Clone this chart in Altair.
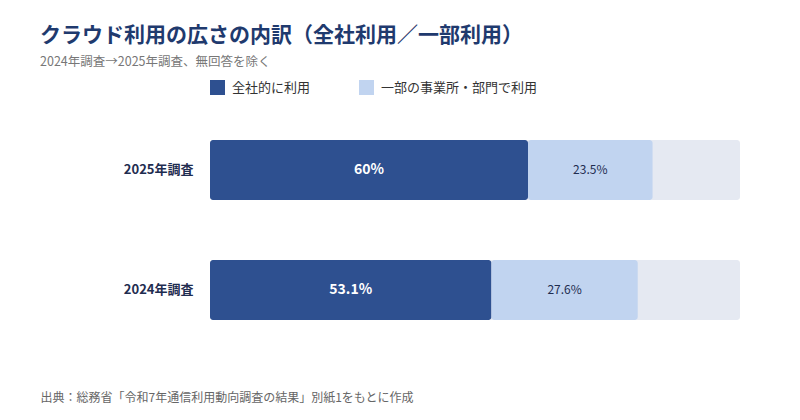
import altair as alt
import pandas as pd

surveys = ["2025年調査", "2024年調査"]
full_use = [60.0, 53.1]
partial_use = [23.5, 27.6]
series = ["全社的に利用", "一部の事業所・部門で利用"]
full_labels = ["60%", "53.1%"]
partial_labels = ["23.5%", "27.6%"]

FONT = "Noto Sans CJK JP"
DARK = "#2e5090"
LIGHT = "#c1d4f0"
BG = "#e5e9f2"
NAVY = "#1f2d50"

rows = []
for i, s in enumerate(surveys):
    rows.append({"survey": s, "series": series[0], "value": full_use[i], "label": full_labels[i], "order": 0})
    rows.append({"survey": s, "series": series[1], "value": partial_use[i], "label": partial_labels[i], "order": 1})
df = pd.DataFrame(rows)
bg_df = pd.DataFrame({"survey": surveys, "total": [100] * len(surveys)})

y_enc = alt.Y(
    "survey:N",
    sort=surveys,
    scale=alt.Scale(paddingInner=0.5, paddingOuter=0.25),
    axis=alt.Axis(
        title=None, domain=False, ticks=False, labelPadding=17,
        labelFont=FONT, labelFontSize=13, labelFontWeight="bold", labelColor=NAVY,
    ),
)
x_scale = alt.Scale(domain=[0, 100], nice=False)
x_axis = alt.Axis(
    labels=False, ticks=False, domain=False, grid=False,
    title="出典：総務省「令和7年通信利用動向調査の結果」別紙1をもとに作成",
    titleFont=FONT, titleFontSize=12, titleFontWeight="normal", titleColor="#666666",
    titleAnchor="start", titleAlign="left", titleX=-170, titleY=47, titleBaseline="middle",
)

bg = alt.Chart(bg_df).mark_bar(color=BG, cornerRadius=3).encode(
    x=alt.X("total:Q", scale=x_scale, axis=x_axis),
    y=y_enc,
)

stacked = alt.Chart(df).transform_stack(
    stack="value", groupby=["survey"], as_=["x0", "x1"], sort=[alt.SortField("order")]
).transform_calculate(mid="(datum.x0 + datum.x1) / 2")

bars = stacked.mark_bar(cornerRadius=3).encode(
    x=alt.X("x0:Q", scale=x_scale),
    x2="x1:Q",
    y=y_enc,
    color=alt.Color(
        "series:N",
        scale=alt.Scale(domain=series, range=[DARK, LIGHT]),
        legend=alt.Legend(
            title=None, orient="none", legendX=0, legendY=-30, direction="horizontal",
            symbolType="square", symbolSize=225, symbolStrokeWidth=0, symbolOpacity=1,
            labelFont=FONT, labelFontSize=13, labelColor="#333333", labelOffset=7,
            columnPadding=48,
        ),
    ),
)

full_text = stacked.transform_filter(alt.datum.order == 0).mark_text(
    font=FONT, fontSize=14, fontWeight="bold", color="white"
).encode(x=alt.X("mid:Q", scale=x_scale), y=y_enc, text="label:N")

part_text = stacked.transform_filter(alt.datum.order == 1).mark_text(
    font=FONT, fontSize=12, color=NAVY
).encode(x=alt.X("mid:Q", scale=x_scale), y=y_enc, text="label:N")

chart = alt.layer(bg, bars, full_text, part_text).properties(
    width=530,
    height=240,
    background="white",
    autosize=alt.AutoSizeParams(type="none"),
    padding={"left": 202, "top": 102, "right": 40, "bottom": 60},
    title=alt.TitleParams(
        text="クラウド利用の広さの内訳（全社利用／一部利用）",
        subtitle="2024年調査→2025年調査、無回答を除く",
        anchor="start", frame="group", dx=-170, offset=12,
        font=FONT, fontSize=21, fontWeight="bold", color="#1f3a6e",
        subtitleFont=FONT, subtitleFontSize=12.5, subtitleColor="#777777", subtitlePadding=10,
    ),
).configure_view(strokeWidth=0, stroke=None)

chart.save("out.html", embed_options={"renderer": "svg", "actions": False})
